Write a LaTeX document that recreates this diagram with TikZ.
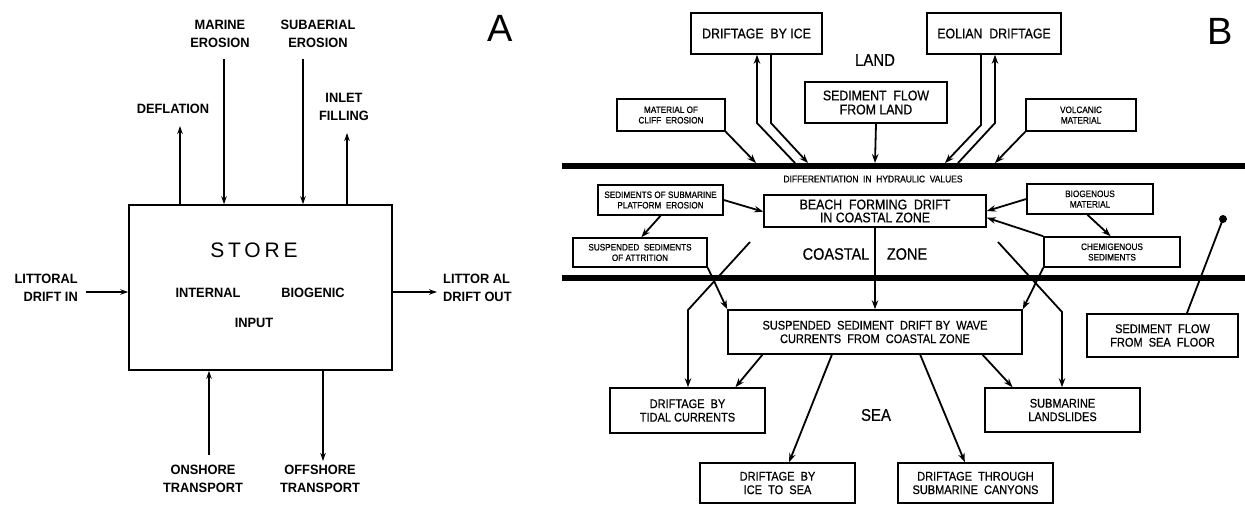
\documentclass[tikz,border=0pt]{standalone}
\usepackage{fontspec}
\setmainfont{Liberation Sans}
\newfontfamily\nf[FakeStretch=0.88,FakeBold=0.6]{Liberation Sans}
\newfontfamily\lf[FakeStretch=0.95]{Liberation Sans}
\newfontfamily\storefont[LetterSpace=18]{Liberation Sans}
\usetikzlibrary{arrows.meta,calc}
\tikzset{
  bx/.style 2 args={draw,line width=1.6pt,minimum width=#1,minimum height=#2,inner sep=0pt,align=center},
  arr/.style={-{Stealth[length=9pt,width=6.5pt]},line width=1.8pt},
  larr/.style={-{Stealth[length=8pt,width=5.5pt]},line width=1.5pt},
  plain/.style={line width=1.8pt},
  ll/.style={font=\lf\bfseries\fontsize{13.5}{18}\selectfont,align=center,inner sep=0pt},
  big/.style={font=\nf\fontsize{14}{14}\selectfont},
  small/.style={font=\nf\fontsize{9.3}{10.5}\selectfont},
  mid/.style={font=\nf\fontsize{12.5}{13.5}\selectfont},
  thick line/.style={line width=6.5pt}
}
\begin{document}
\begin{tikzpicture}[x=1pt,y=-1pt]
\useasboundingbox (0,0) rectangle (1245,504);
% ---------------- Panel A ----------------
\node[font=\fontsize{38}{38}\selectfont,inner sep=0pt] (labA) at (500,28) {A};
\node[bx={263pt}{165pt}] (store) at (260.5,287.5) {};
\node[font=\storefont\fontsize{21}{21}\selectfont,inner sep=0pt] (storet) at (254,250) {STORE};
\node[ll] (internal) at (208,293) {INTERNAL};
\node[ll] (biogenic) at (313,293) {BIOGENIC};
\node[ll] (input) at (254,323) {INPUT};
\node[ll] (marine) at (220,34) {MARINE\\EROSION};
\node[ll] (subaer) at (318,34) {SUBAERIAL\\EROSION};
\node[ll] (defl) at (173,109) {DEFLATION};
\node[ll] (inlet) at (344,107) {INLET\\FILLING};
\node[ll,align=right,anchor=east] (lin) at (78,288) {LITTORAL\\DRIFT IN};
\node[ll,align=left,anchor=west] (lout) at (443,288) {LITTOR AL\\DRIFT OUT};
\node[ll] (onsh) at (203,479) {ONSHORE\\TRANSPORT};
\node[ll] (offsh) at (320,479) {OFFSHORE\\TRANSPORT};
\coordinate (m1) at (224,59);
\coordinate (s1) at (303,59);
\coordinate (d1) at (180,126);
\coordinate (i1) at (347,133);
\coordinate (li) at (86,292);
\coordinate (lo) at (437,292);
\coordinate (on) at (209,455);
\coordinate (of) at (323,461);
\draw[larr] (m1) -- (m1 |- store.north);
\draw[larr] (s1) -- (s1 |- store.north);
\draw[larr] (d1 |- store.north) -- (d1);
\draw[larr] (i1 |- store.north) -- (i1);
\draw[larr] (li) -- (li -| store.west);
\draw[larr] (lo -| store.east) -- (lo);
\draw[larr] (on) -- (on |- store.south);
\draw[larr] (of |- store.south) -- (of);
% ---------------- Panel B ----------------
\node[font=\fontsize{38}{38}\selectfont,inner sep=0pt] (labB) at (1220,31) {B};
\draw[thick line] (562,166) coordinate (t1) -- (1245,166) coordinate (t2);
\draw[thick line] (562,278) coordinate (u1) -- (1245,278) coordinate (u2);
\node[font=\nf\fontsize{17}{17}\selectfont] (land) at (875,60) {LAND};
\node[font=\nf\fontsize{9.6}{10}\selectfont] (diff) at (873,179) {DIFFERENTIATION\ \ IN\ \ HYDRAULIC\ \ VALUES};
\node[font=\nf\fontsize{16.5}{17}\selectfont] (coastal) at (836,254) {COASTAL};
\node[font=\nf\fontsize{16.5}{17}\selectfont] (zone) at (907,254) {ZONE};
\node[font=\nf\fontsize{17}{17}\selectfont] (sea) at (876,415) {SEA};
\node[bx={131pt}{41pt},big] (ice) at (756.5,33.5) {DRIFTAGE\ \ BY\ ICE};
\node[bx={134pt}{41pt},big] (eol) at (994,33.5) {EOLIAN\ \ DRIFTAGE};
\node[bx={142pt}{41pt},big] (sfl) at (876,102.5) {SEDIMENT\ \ FLOW\\FROM\ LAND};
\node[bx={108pt}{32pt},small] (cliff) at (671,115) {MATERIAL OF\\CLIFF\ \ EROSION};
\node[bx={110pt}{32pt},small] (volc) at (1081,115) {VOLCANIC\\MATERIAL};
\node[bx={125pt}{30pt},small] (sspe) at (660.5,200) {SEDIMENTS\ OF\ SUBMARINE\\PLATFORM\ \ EROSION};
\node[bx={222pt}{32pt},font=\nf\fontsize{14}{13}\selectfont] (beach) at (875,211) {BEACH\ \ FORMING\ \ DRIFT\\IN\ COASTAL\ ZONE};
\node[bx={126pt}{30pt},small] (biog) at (1090,199) {BIOGENOUS\\MATERIAL};
\node[bx={134pt}{29pt},small] (attr) at (640,252.5) {SUSPENDED\ \ SEDIMENTS\\OF\ ATTRITION};
\node[bx={136pt}{30pt},small] (chem) at (1112,252) {CHEMIGENOUS\\SEDIMENTS};
\node[bx={294pt}{44pt},mid] (susp) at (875,332) {SUSPENDED\ \ SEDIMENT\ \ DRIFT\ BY\ \ WAVE\\CURRENTS\ \ FROM\ \ COASTAL\ ZONE};
\node[bx={151pt}{43pt},mid] (floor) at (1162.5,335.5) {SEDIMENT\ \ FLOW\\FROM\ \ SEA\ \ FLOOR};
\node[bx={155pt}{45pt},mid] (tidal) at (687.5,410.5) {DRIFTAGE\ \ BY\\TIDAL\ CURRENTS};
\node[bx={155pt}{44pt},mid] (slides) at (1062.5,410) {SUBMARINE\\LANDSLIDES};
\node[bx={155pt}{40pt},mid] (icesea) at (777.5,483) {DRIFTAGE\ \ BY\\ICE\ \ TO\ \ SEA};
\node[bx={155pt}{40pt},mid] (cany) at (975.5,483) {DRIFTAGE\ \ THROUGH\\SUBMARINE\ \ CANYONS};
% land side connectors
\draw[arr] (sfl.south) -- (875,163);
\draw[arr] (cliff.south east) -- (756,163);
\coordinate (ia) at (795,163);
\coordinate (ib) at (757,123);
\coordinate (ic) at (771,123);
\coordinate (id) at (808,163);
\draw[arr] (ia) -- (ib) -- (ib |- ice.south);
\draw[arr] (ic |- ice.south) -- (ic) -- (id);
\coordinate (ea) at (981,125);
\coordinate (eb) at (945,163);
\coordinate (ec) at (958,163);
\coordinate (ed) at (995,123);
\draw[arr] (ea |- eol.south) -- (ea) -- (eb);
\draw[arr] (ec) -- (ed) -- (ed |- eol.south);
\draw[arr] (volc.south west) -- (995,163);
% coastal zone connectors
\draw[arr] (sspe.east) -- ($(beach.north west)!0.52!(beach.south west)$);
\draw[arr] ($(sspe.south west)!0.5!(sspe.south east)$) -- ($(attr.north west)!0.51!(attr.north east)$);
\draw[arr] (attr.south east) -- (susp.north west);
\coordinate (ta) at (750,242);
\coordinate (tb) at (688,310);
\draw[arr] (ta) -- (tb) -- (tb |- tidal.north);
\draw[arr] (beach.south) -- (susp.north);
\draw[arr] ($(biog.north west)!0.5!(biog.south west)$) -- ($(beach.north east)!0.5!(beach.south east)$);
\draw[arr] ($(biog.south west)!0.48!(biog.south east)$) -- ($(chem.north west)!0.49!(chem.north east)$);
\draw[arr] (chem.north west) -- ($(beach.north east)!0.7!(beach.south east)$);
\draw[arr] (chem.south west) -- (susp.north east);
\coordinate (sa) at (998,242);
\coordinate (sb) at (1062,312);
\draw[arr] (sa) -- (sb) -- (sb |- slides.north);
% sea connectors
\draw[arr] ($(susp.south west)!0.119!(susp.south east)$) -- ($(tidal.north west)!0.806!(tidal.north east)$);
\draw[arr] ($(susp.south west)!0.354!(susp.south east)$) -- ($(icesea.north west)!0.574!(icesea.north east)$);
\draw[arr] ($(susp.south west)!0.653!(susp.south east)$) -- ($(cany.north west)!0.432!(cany.north east)$);
\draw[arr] ($(susp.south west)!0.864!(susp.south east)$) -- ($(slides.north west)!0.181!(slides.north east)$);
\node[circle,fill,inner sep=0pt,minimum size=8pt] (dot) at (1223,219) {};
\draw[plain] ($(floor.north west)!0.66!(floor.north east)$) -- (dot.center);
\end{tikzpicture}
\end{document}
